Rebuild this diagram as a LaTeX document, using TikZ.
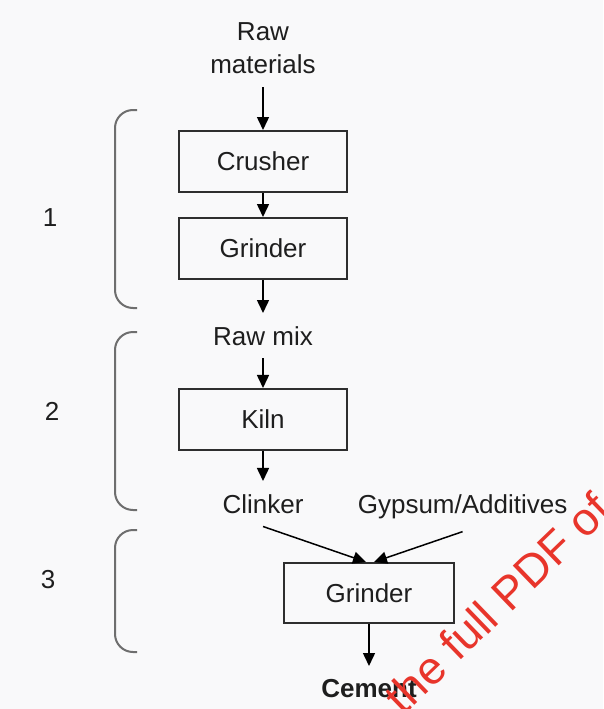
\documentclass[tikz,border=0pt]{standalone}
\usepackage{fontspec}
\setmainfont{Liberation Sans}
\definecolor{ink}{HTML}{1E1E1E}
\definecolor{frame}{HTML}{2E2E2E}
\definecolor{brace}{HTML}{6E6E6E}
\definecolor{paper}{HTML}{F9F9FA}
\definecolor{stamp}{HTML}{E8352B}
\usetikzlibrary{arrows.meta,positioning}
\tikzset{
  box/.style={draw=frame,line width=2pt,minimum width=168pt,minimum height=61pt,
              inner sep=0pt,font=\fontsize{26}{31}\selectfont,text=ink},
  txt/.style={inner xsep=2pt,inner ysep=13pt,align=center,
              font=\fontsize{26}{33}\selectfont,text=ink},
  arr/.style={-{Triangle[length=13pt,width=12pt]},line width=1.5pt,black},
  brk/.style={draw=brace,line width=2pt,rounded corners=18pt},
  num/.style={font=\fontsize{26}{31}\selectfont,text=ink}
}

\begin{document}
\begin{tikzpicture}[x=1pt,y=-1pt]
    \fill[paper] (0,0) rectangle (603,709);
    \useasboundingbox (0,0) rectangle (603,709);
    \clip (0,0) rectangle (603,709);
    \node[box] (crush) at (263,161.5) {Crusher};
    \node[txt,above=43pt of crush] (raw) {Raw\\materials};
    \node[box,below=24pt of crush] (grindA) {Grinder};
    \node[txt,below=33pt of grindA] (mix) {Raw mix};
    \node[box,below=29.5pt of mix] (kiln) {Kiln};
    \node[txt,below=30pt of kiln] (clink) {Clinker};
    \node[txt,base right=50pt of clink] (gyps) {Gypsum/Additives};
    \node[box,minimum width=170pt,minimum height=60pt] (grindB) at (369,593) {Grinder};
    \node[txt,below=42pt of grindB] (cem) {\textbf{Cement}};
    \draw[arr] (raw) -- (crush);
    \draw[arr] (crush) -- (grindA);
    \draw[arr] (grindA) -- (mix);
    \draw[arr] (mix) -- (kiln);
    \draw[arr] (kiln) -- (clink);
    \draw[arr] (clink.south) -- ([xshift=-3pt]grindB.north);
    \draw[arr] (gyps.south) -- ([xshift=5pt]grindB.north);
    \draw[arr] (grindB) -- (cem);
    % stage brackets
    \draw[brk] (137,110) -- (115,110) -- (115,308) -- (137,308);
    \draw[brk] (137,332) -- (115,332) -- (115,510) -- (137,510);
    \draw[brk] (137,530) -- (115,530) -- (115,652) -- (137,652);
    \node[num] (st1) at (50,218) {1};
    \node[num] (st2) at (52,411) {2};
    \node[num] (st3) at (48,580) {3};
    \node[rotate=44,text=stamp,font=\fontsize{46}{46}\selectfont] (mark) at (497,603) {the full PDF of};
  \end{tikzpicture}
\end{document}
